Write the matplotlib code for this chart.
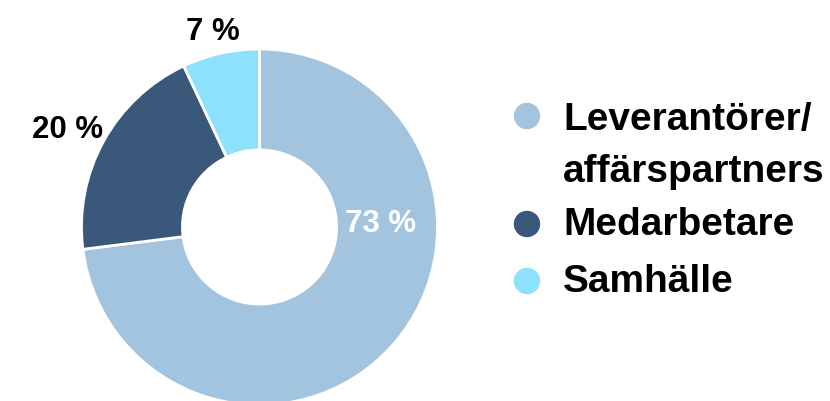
import matplotlib.pyplot as plt
from matplotlib.patches import Ellipse

plt.rcParams['font.family'] = ['Liberation Sans', 'DejaVu Sans']

# Shares of the donut, clockwise from 12 o'clock
categories = ['Leverantörer/\naffärspartners', 'Medarbetare', 'Samhälle']
shares = [73, 20, 7]
colors = ['#A3C4DE', '#3A5879', '#8EE1FC']

# Where each percentage label sits (data coords, radius = 1) and its colour
label_pos = [(0.68, 0.02), (-1.08, 0.55), (-0.26, 1.10)]
label_color = ['white', 'black', 'black']

fig = plt.figure(figsize=(8.3, 4.02), dpi=100)
W, H = 830, 402
cx, cy, r = 259.5, 402 - 228, 178
ax = fig.add_axes([(cx - r) / W, (cy - r) / H, 2 * r / W, 2 * r / H])

ax.pie(shares, colors=colors, startangle=90, counterclock=False, radius=1,
       wedgeprops=dict(width=0.567, edgecolor='white', linewidth=2))
ax.set_xlim(-1, 1)
ax.set_ylim(-1, 1)

for val, (x, y), c in zip(shares, label_pos, label_color):
    ax.text(x, y, f'{val} %', ha='center', va='center', fontsize=22.5,
            fontweight='bold', color=c, clip_on=False)

# Legend drawn by hand: dot + bold label per category
dot_y = [117, 225, 282]
text_y = [146, 225, 282]
for cat, col, dy, ty in zip(categories, colors, dot_y, text_y):
    fig.patches.append(Ellipse((527 / W, 1 - dy / H), 25 / W, 25 / H,
                               transform=fig.transFigure, color=col,
                               figure=fig))
    fig.text(563 / W, 1 - ty / H, cat, ha='left', va='center', fontsize=28,
             fontweight='bold', linespacing=1.58)

fig.savefig('out.png', dpi=100)
